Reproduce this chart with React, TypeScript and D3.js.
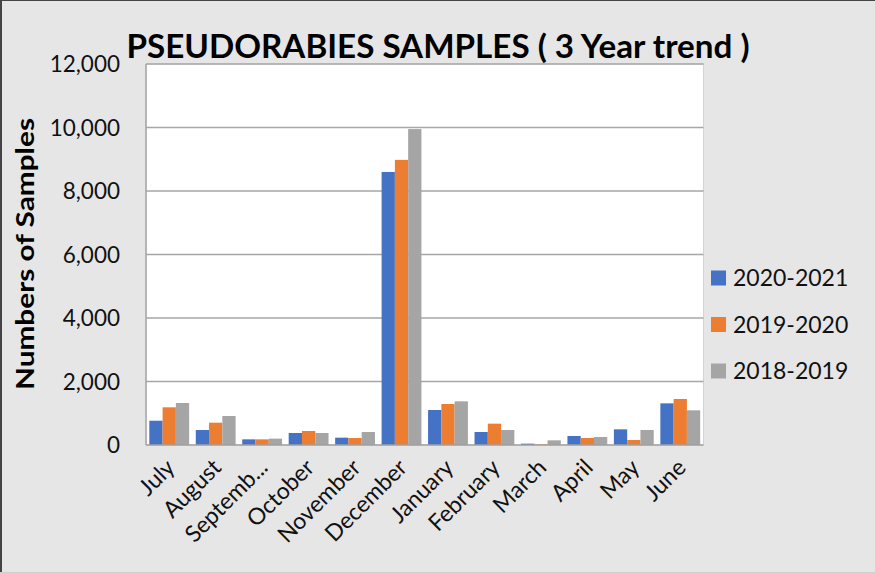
import React from "react";
import * as d3 from "d3";

const months = ["July", "August", "Septemb...", "October", "November", "December", "January", "February", "March", "April", "May", "June"];
const seriesNames = ["2020-2021", "2019-2020", "2018-2019"];
const s2020_2021 = [765, 472, 178, 378, 231, 8600, 1102, 409, 42, 283, 493, 1312];
const s2019_2020 = [1187, 703, 178, 441, 220, 8980, 1291, 672, 21, 220, 157, 1449];
const s2018_2019 = [1323, 913, 200, 378, 409, 9950, 1375, 472, 147, 252, 472, 1092];
const yTicks = [0, 2000, 4000, 6000, 8000, 10000, 12000];
const colors = ["#4472C4", "#ED7D31", "#A5A5A5"];

const W = 875, H = 573;
const plot = { left: 146, right: 703.5, top: 64, bottom: 445 };
const FONT = "Lato, 'Open Sans', sans-serif";

export default function App() {
  const series = [s2020_2021, s2019_2020, s2018_2019];
  const x = d3.scaleBand<string>().domain(months).range([plot.left, plot.right]).paddingInner(0).paddingOuter(0);
  const inner = d3.scaleBand<string>().domain(seriesNames).range([0, x.bandwidth()]).paddingInner(0).paddingOuter(0.25);
  const y = d3.scaleLinear().domain([0, 12000]).range([plot.bottom, plot.top]);
  const fmt = d3.format(",");

  return (
    <svg width={W} height={H} style={{ position: "absolute", left: 0, top: 0, display: "block" }}>
      <rect x={0} y={0} width={W} height={H} fill="#e6e6e6" />
      <line x1={0} y1={0.5} x2={W} y2={0.5} stroke="#444" strokeWidth={1} />
      <line x1={1} y1={0} x2={1} y2={H} stroke="#444" strokeWidth={2} />
      <line x1={0} y1={H - 0.5} x2={W} y2={H - 0.5} stroke="#cfcfcf" strokeWidth={1} />

      <rect x={plot.left} y={plot.top} width={plot.right - plot.left} height={plot.bottom - plot.top} fill="#ffffff" stroke="#d4d4d4" strokeWidth={1} />

      {yTicks.map((t) => (
        <g key={t}>
          {t > 0 && (
            <line x1={plot.left} x2={plot.right} y1={y(t)} y2={y(t)} stroke="#a6a6a6" strokeWidth={1.5} />
          )}
          <text x={120} y={y(t)} dy="0.36em" textAnchor="end" fontFamily={FONT} fontSize={22.5} fill="#111">
            {fmt(t)}
          </text>
        </g>
      ))}

      {months.map((m, i) => (
        <g key={m}>
          {series.map((s, k) => (
            <rect
              key={k}
              x={(x(m) as number) + (inner(seriesNames[k]) as number)}
              y={y(s[i])}
              width={inner.bandwidth()}
              height={plot.bottom - y(s[i])}
              fill={colors[k]}
            />
          ))}
          <text
            transform={`translate(${(x(m) as number) + x.bandwidth() / 2 + 7},${plot.bottom + 24}) rotate(-45)`}
            textAnchor="end"
            fontFamily={FONT}
            fontSize={23}
            fill="#111"
          >
            {m}
          </text>
        </g>
      ))}

      <line x1={plot.left} x2={plot.left} y1={plot.top} y2={plot.bottom} stroke="#a6a6a6" strokeWidth={1.5} />
      <line x1={plot.left} x2={plot.right} y1={plot.bottom} y2={plot.bottom} stroke="#a0a0a0" strokeWidth={1.5} />

      <text x={438} y={58} textAnchor="middle" fontFamily={FONT} fontWeight="bold" fontSize={33} fill="#000" textLength={623} lengthAdjust="spacingAndGlyphs">
        PSEUDORABIES SAMPLES ( 3 Year trend )
      </text>

      <text transform={`translate(34,254) rotate(-90)`} textAnchor="middle" fontFamily={FONT} fontWeight="bold" fontSize={25} fill="#000" textLength={272} lengthAdjust="spacingAndGlyphs">
        Numbers of Samples
      </text>

      {seriesNames.map((n, k) => {
        const cy = 278 + k * 46.5;
        return (
          <g key={n}>
            <rect x={711} y={cy - 7.5} width={15} height={15} fill={colors[k]} />
            <text x={733} y={cy} dy="0.36em" fontFamily={FONT} fontSize={23} fill="#111">
              {n}
            </text>
          </g>
        );
      })}
    </svg>
  );
}
